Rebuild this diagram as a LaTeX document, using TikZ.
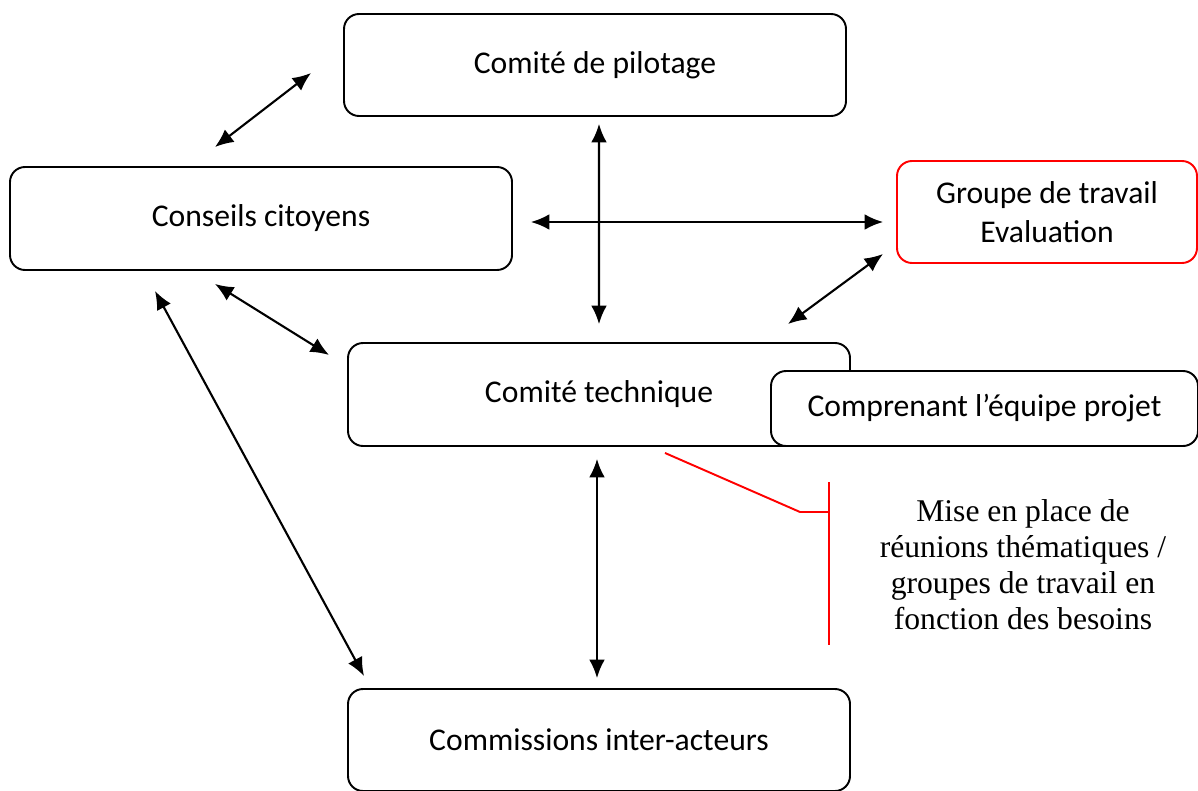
\documentclass[tikz,border=0pt]{standalone}
\usepackage{fontspec}
\setmainfont{Carlito}
\newfontfamily\calloutfont{Liberation Serif}
\usepackage{tikz}
\usetikzlibrary{arrows.meta}
\usetikzlibrary{calc}

\begin{document}
\begin{tikzpicture}[line width=1.1pt,
        box_style/.style={draw=black,rounded corners=0.3cm,fill=white,align=center,inner sep=0pt,font=\fontsize{18}{22.5}\selectfont},
        eval_box_style/.style={box_style,draw=red},
        edge_style/.style={draw=black, line width=1.2pt,{Latex[length=10.5pt,width=9pt]}-{Latex[length=10.5pt,width=9pt]}},
        callout_style/.style={draw=red, line width=1.1pt}]

        \useasboundingbox (0,0) rectangle (23.96,-15.82);

        \node [box_style,minimum width=10.04cm,minimum height=2.04cm](pilotage) at (11.9,-1.3) {Comité de pilotage};

        \node [box_style,minimum width=10.04cm,minimum height=2.06cm](citoyens) at (5.22,-4.37) {Conseils citoyens};

        \node [eval_box_style,minimum width=6.0cm,minimum height=2.04cm](evaluation) at (20.94,-4.24) {Groupe de travail\\Evaluation};

        \node [box_style,minimum width=10.04cm,minimum height=2.06cm](technique) at (11.98,-7.89) {Comité technique};

        \node [box_style,minimum width=8.54cm,minimum height=1.5cm](projet) at (19.69,-8.17) {Comprenant l’équipe projet};

        \node [box_style,minimum width=10.04cm,minimum height=2.04cm](commissions) at (11.98,-14.8) {\raisebox{-4pt}{Commissions inter-acteurs}};

        \node [align=center,font=\calloutfont\fontsize{18}{20.5}\selectfont](besoins) at (20.46,-11.3) {Mise en place de\\réunions thématiques /\\groupes de travail en\\fonction des besoins};

        \coordinate (bracket) at (16.58,-10.24);

        \draw [edge_style] ([shift={(-0.92,0.38)}]citoyens.north) -- ([shift={(-0.64,-0.16)}]pilotage.west);

        \draw [edge_style] ([shift={(0.08,-0.14)}]pilotage.south) -- ([shift={(0,0.36)}]technique.north);

        \draw [edge_style] ([shift={(0.36,-0.07)}]citoyens.east) -- ([shift={(-0.26,-0.2)}]evaluation.west);

        \draw [edge_style] ([shift={(-0.26,0.2)}]evaluation.south west) -- ([shift={(-1.26,0.36)}]technique.north east);

        \draw [edge_style] ([shift={(-0.92,-0.26)}]citoyens.south) -- ([shift={(-0.36,0.79)}]technique.west);

        \draw [edge_style] ([shift={(-2.12,-0.4)}]citoyens.south) -- ([shift={(0.34,0.24)}]commissions.north west);

        \draw [edge_style] ([shift={(-0.04,-0.24)}]technique.south) -- ([shift={(-0.04,0.2)}]commissions.north);

        % callout for the thematic meetings
        \draw [callout_style] ([shift={(1.32,-0.12)}]technique.south) -- ($(bracket)+(-0.58,0)$) -- (bracket);

        \draw [callout_style] ($(bracket)+(0,0.6)$) -- ($(bracket)+(0,-2.66)$);

\end{tikzpicture}
\end{document}
